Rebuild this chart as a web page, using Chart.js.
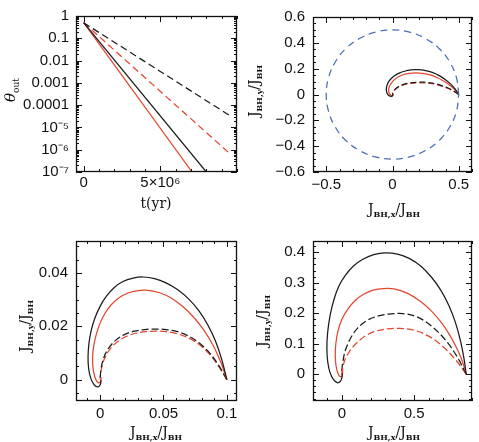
<!DOCTYPE html>
<html>
<head>
<meta charset="utf-8">
<script src="https://cdn.jsdelivr.net/npm/chart.js@4.4.1/dist/chart.umd.min.js"></script>
<style>
  html, body { margin: 0; padding: 0; background: #fff; }
  #wrap { position: relative; width: 479px; height: 442px; overflow: hidden; }
  canvas { position: absolute; left: 0; top: 0; }
</style>
</head>
<body>
<div id="wrap">
  <canvas id="p1" width="479" height="442"></canvas>
  <canvas id="p2" width="479" height="442"></canvas>
  <canvas id="p3" width="479" height="442"></canvas>
  <canvas id="p4" width="479" height="442"></canvas>
</div>
<script>
// ---- data ----
// panel 1 : theta_out(t), straight lines on the log axis
const p1BlackSolid  = [[0, 0.5], [8.0e6, 1e-7]];
const p1RedSolid    = [[0, 0.5], [7.07e6, 1e-7]];
const p1BlackDashed = [[0, 0.5], [9.5e6, 3.5e-5]];
const p1RedDashed   = [[0, 0.5], [9.45e6, 7.5e-7]];
const p1XTicks = [0, 5e6];
const p1XLabels = ['0', '5×10⁶'];
const p1YTicks = [1, 0.1, 0.01, 0.001, 0.0001, 1e-5, 1e-6, 1e-7];
const p1YLabels = ['1', '0.1', '0.01', '0.001', '0.0001', '10⁻⁵', '10⁻⁶', '10⁻⁷'];

// panel 2 : J_BH,y vs J_BH,x with the |J| = 0.5 circle
const p2BlackSolid = [[0.500, 0.000], [0.475, 0.040], [0.440, 0.080], [0.400, 0.115], [0.350, 0.148], [0.300, 0.171],
  [0.250, 0.185], [0.190, 0.192], [0.140, 0.190], [0.090, 0.180], [0.050, 0.165], [0.015, 0.145], [-0.015, 0.118],
  [-0.035, 0.088], [-0.045, 0.055], [-0.046, 0.028], [-0.038, 0.005], [-0.022, -0.012], [-0.006, -0.014],
  [0.003, -0.006], [0.004, 0.003]];
const p2RedSolid = [[0.500, 0.000], [0.470, 0.038], [0.430, 0.074], [0.385, 0.105], [0.335, 0.132], [0.285, 0.152],
  [0.230, 0.164], [0.175, 0.168], [0.125, 0.164], [0.080, 0.153], [0.045, 0.137], [0.015, 0.115], [-0.008, 0.088],
  [-0.024, 0.060], [-0.029, 0.035], [-0.026, 0.013], [-0.015, -0.004], [-0.004, -0.008], [0.003, -0.003], [0.004, 0.005]];
const p2BlackDashed = [[0.500, 0.000], [0.460, 0.028], [0.415, 0.052], [0.360, 0.073], [0.300, 0.088], [0.240, 0.095],
  [0.185, 0.095], [0.135, 0.090], [0.090, 0.080], [0.055, 0.066], [0.028, 0.048], [0.010, 0.028], [0.002, 0.012], [0.0, 0.0]];
const p2RedDashed = [[0.500, 0.000], [0.460, 0.026], [0.415, 0.049], [0.360, 0.069], [0.300, 0.084], [0.240, 0.090],
  [0.190, 0.091], [0.140, 0.087], [0.095, 0.078], [0.058, 0.065], [0.030, 0.048], [0.012, 0.029], [0.003, 0.012], [0.0, 0.0]];
const p2Circle = [[0.5, 0], [0.483, 0.129], [0.433, 0.25], [0.354, 0.354], [0.25, 0.433], [0.129, 0.483], [0, 0.5],
  [-0.129, 0.483], [-0.25, 0.433], [-0.354, 0.354], [-0.433, 0.25], [-0.483, 0.129], [-0.5, 0],
  [-0.483, -0.129], [-0.433, -0.25], [-0.354, -0.354], [-0.25, -0.433], [-0.129, -0.483], [0, -0.5],
  [0.129, -0.483], [0.25, -0.433], [0.354, -0.354], [0.433, -0.25], [0.483, -0.129], [0.5, 0]];
const p2XTicks = [-0.5, 0, 0.5];
const p2XLabels = ['−0.5', '0', '0.5'];
const p2YTicks = [-0.6, -0.4, -0.2, 0, 0.2, 0.4, 0.6];
const p2YLabels = ['−0.6', '−0.4', '−0.2', '0', '0.2', '0.4', '0.6'];

// panel 3
const p3BlackSolid = [[0.100, 0.000], [0.096, 0.0075], [0.091, 0.0145], [0.085, 0.0205], [0.078, 0.0258], [0.070, 0.0302],
  [0.061, 0.0338], [0.052, 0.0363], [0.043, 0.0379], [0.034, 0.0385], [0.026, 0.0381], [0.018, 0.0368], [0.011, 0.0345],
  [0.005, 0.0313], [0.000, 0.0275], [-0.004, 0.0232], [-0.007, 0.0185], [-0.0088, 0.0135], [-0.0095, 0.0085],
  [-0.0090, 0.0040], [-0.0072, 0.0003], [-0.0045, -0.0020], [-0.0018, -0.0027], [0.0002, -0.0018], [0.0008, -0.0002]];
const p3RedSolid = [[0.100, 0.000], [0.095, 0.0068], [0.089, 0.0130], [0.082, 0.0185], [0.074, 0.0233], [0.065, 0.0275],
  [0.056, 0.0306], [0.047, 0.0326], [0.038, 0.0335], [0.030, 0.0334], [0.022, 0.0325], [0.015, 0.0307], [0.009, 0.0282],
  [0.004, 0.0250], [0.000, 0.0212], [-0.003, 0.0170], [-0.0050, 0.0127], [-0.0059, 0.0085], [-0.0056, 0.0045],
  [-0.0043, 0.0013], [-0.0024, -0.0007], [-0.0006, -0.0012], [0.0005, -0.0004], [0.0008, 0.0010]];
const p3BlackDashed = [[0.100, 0.000], [0.094, 0.0050], [0.087, 0.0097], [0.079, 0.0135], [0.070, 0.0163], [0.061, 0.0180],
  [0.052, 0.0188], [0.043, 0.0190], [0.035, 0.0188], [0.027, 0.0182], [0.020, 0.0171], [0.014, 0.0154], [0.009, 0.0132],
  [0.005, 0.0105], [0.0022, 0.0072], [0.0006, 0.0036], [0.0, 0.000]];
const p3RedDashed = [[0.100, 0.000], [0.094, 0.0047], [0.087, 0.0092], [0.079, 0.0129], [0.070, 0.0156], [0.061, 0.0172],
  [0.052, 0.0180], [0.044, 0.0182], [0.036, 0.0180], [0.028, 0.0174], [0.021, 0.0163], [0.015, 0.0147], [0.010, 0.0127],
  [0.006, 0.0102], [0.0027, 0.0070], [0.0008, 0.0035], [0.0, 0.000]];
const p3XTicks = [0, 0.05, 0.1];
const p3XLabels = ['0', '0.05', '0.1'];
const p3YTicks = [0, 0.02, 0.04];
const p3YLabels = ['0', '0.02', '0.04'];

// panel 4
const p4BlackSolid = [[0.86, 0.000], [0.845, 0.050], [0.82, 0.110], [0.785, 0.170], [0.74, 0.225], [0.685, 0.275],
  [0.62, 0.318], [0.545, 0.355], [0.465, 0.380], [0.385, 0.394], [0.30, 0.398], [0.22, 0.392], [0.145, 0.377],
  [0.08, 0.355], [0.025, 0.325], [-0.02, 0.290], [-0.055, 0.245], [-0.083, 0.190], [-0.099, 0.135], [-0.104, 0.085],
  [-0.098, 0.040], [-0.082, 0.005], [-0.058, -0.018], [-0.032, -0.028], [-0.012, -0.024], [0.0, -0.012], [0.003, 0.002]];
const p4RedSolid = [[0.86, 0.000], [0.835, 0.040], [0.80, 0.080], [0.75, 0.125], [0.69, 0.168], [0.62, 0.207],
  [0.54, 0.240], [0.455, 0.265], [0.37, 0.279], [0.29, 0.281], [0.215, 0.276], [0.15, 0.262], [0.09, 0.241],
  [0.04, 0.213], [0.0, 0.180], [-0.027, 0.142], [-0.042, 0.100], [-0.046, 0.060], [-0.040, 0.026], [-0.027, 0.002],
  [-0.012, -0.008], [0.0, -0.006], [0.005, 0.005], [0.004, 0.020]];
const p4BlackDashed = [[0.86, 0.000], [0.80, 0.055], [0.72, 0.110], [0.62, 0.158], [0.52, 0.188], [0.42, 0.199],
  [0.34, 0.198], [0.26, 0.192], [0.18, 0.178], [0.11, 0.152], [0.06, 0.118], [0.025, 0.080], [0.008, 0.045],
  [0.0, 0.015], [0.0, 0.0]];
const p4RedDashed = [[0.86, 0.000], [0.79, 0.045], [0.70, 0.090], [0.60, 0.125], [0.50, 0.144], [0.40, 0.150],
  [0.32, 0.149], [0.24, 0.142], [0.17, 0.128], [0.11, 0.106], [0.06, 0.080], [0.025, 0.052], [0.008, 0.027],
  [0.0, 0.008], [0.0, 0.0]];
const p4XTicks = [0, 0.5];
const p4XLabels = ['0', '0.5'];
const p4YTicks = [0, 0.1, 0.2, 0.3, 0.4];
const p4YLabels = ['0', '0.1', '0.2', '0.3', '0.4'];

// ---- drawing ----
const W = 479, H = 442;
const BLACK = '#1b1b1b', RED = '#e4452e', BLUE = '#4a6db5';
const SERIF = 'DejaVu Serif';

function buildTickList(ax) {
    const out = [];
    if (ax.log) {
        const d0 = Math.round(Math.log10(ax.min)), d1 = Math.round(Math.log10(ax.max));
        for (let d = d0; d <= d1; d++) {
            for (let k = 1; k <= 9; k++) {
                const v = k * Math.pow(10, d);
                if (v > ax.max * 1.0001) break;
                out.push({ value: v, isMajor: k === 1 });
            }
        }
    } else {
        const k0 = Math.ceil(ax.min / ax.minor - 1e-6);
        const k1 = Math.floor(ax.max / ax.minor + 1e-6);
        for (let k = k0; k <= k1; k++) {
            const v = parseFloat((k * ax.minor).toPrecision(10));
            out.push({ value: v, isMajor: ax.majors.some(m => Math.abs(m - v) < ax.minor / 100) });
        }
    }
    return out;
}

function tickLabel(ax) {
    return function (v) {
        const i = ax.majors.findIndex(m => ax.log
            ? Math.abs(Math.log10(m) - Math.log10(v)) < 1e-6
            : Math.abs(m - v) < ax.minor / 100);
        return i >= 0 ? ax.labels[i] : '';
    };
}

function scaleOpts(ax, pos, box) {
    ax.tickList = buildTickList(ax);
    return {
        type: ax.log ? 'logarithmic' : 'linear',
        position: pos,
        min: ax.min,
        max: ax.max,
        grid: { display: false, drawTicks: false },
        border: { display: false },
        afterBuildTicks: s => { s.ticks = ax.tickList.map(t => ({ value: t.value })); },
        afterFit: pos === 'left' ? s => { s.width = box.l; } : s => { s.height = H - box.b; },
        ticks: {
            autoSkip: false, maxRotation: 0, minRotation: 0,
            padding: ax.pad, color: '#111',
            font: { family: 'Liberation Sans', size: 15 },
            callback: tickLabel(ax)
        }
    };
}

// text with subscripts, centred on (cx, cy), optionally rotated
function drawLabel(ctx, parts, cx, cy, rot) {
    ctx.save();
    ctx.translate(cx, cy);
    if (rot) ctx.rotate(-Math.PI / 2);
    ctx.fillStyle = '#111';
    ctx.textBaseline = 'alphabetic';
    ctx.textAlign = 'left';
    let w = 0;
    const widths = parts.map(p => { ctx.font = p[1]; const m = ctx.measureText(p[0]).width; w += m; return m; });
    let xx = -w / 2;
    parts.forEach((p, i) => { ctx.font = p[1]; ctx.fillText(p[0], xx, 5 + (p[2] || 0)); xx += widths[i]; });
    ctx.restore();
}

function framePlugin(xAx, yAx, titles) {
    return {
        id: 'frame',
        afterDraw(chart) {
            const ctx = chart.ctx, a = chart.chartArea;
            const x = chart.scales.x, y = chart.scales.y;
            ctx.save();
            ctx.setLineDash([]);
            ctx.globalAlpha = 1;
            ctx.strokeStyle = '#111';
            ctx.lineWidth = 1;
            ctx.beginPath();
            xAx.tickList.forEach(t => {
                const px = Math.round(x.getPixelForValue(t.value)) + 0.5;
                const len = t.isMajor ? 6 : 3;
                ctx.moveTo(px, a.bottom); ctx.lineTo(px, a.bottom - len);
                ctx.moveTo(px, a.top); ctx.lineTo(px, a.top + len);
            });
            yAx.tickList.forEach(t => {
                const py = Math.round(y.getPixelForValue(t.value)) + 0.5;
                const len = t.isMajor ? 6 : 3;
                ctx.moveTo(a.left, py); ctx.lineTo(a.left + len, py);
                ctx.moveTo(a.right, py); ctx.lineTo(a.right - len, py);
            });
            ctx.stroke();
            ctx.lineWidth = 1.3;
            ctx.strokeRect(a.left + 0.5, a.top + 0.5, a.right - a.left - 1, a.bottom - a.top - 1);
            ctx.restore();
            titles.forEach(t => drawLabel(ctx, t.parts, t.cx, t.cy, t.rot));
        }
    };
}

function line(data, color, dash, tension) {
    return {
        data: data,
        showLine: true,
        borderColor: color,
        borderWidth: 1.25,
        borderDash: dash || [],
        pointRadius: 0,
        tension: tension === undefined ? 0.35 : tension,
        fill: false
    };
}

function makePanel(id, box, xAx, yAx, datasets, titles) {
    new Chart(document.getElementById(id), {
        type: 'scatter',
        data: { datasets: datasets },
        options: {
            responsive: false,
            animation: false,
            events: [],
            layout: { padding: { left: 0, top: box.t, right: W - box.r, bottom: 0 } },
            plugins: { legend: { display: false }, tooltip: { enabled: false } },
            scales: { x: scaleOpts(xAx, 'bottom', box), y: scaleOpts(yAx, 'left', box) }
        },
        plugins: [framePlugin(xAx, yAx, titles)]
    });
}

const big = '14px ' + SERIF, sub = 'bold 8px ' + SERIF;
const jx = [['J', big], ['BH,x', sub, 3], ['/J', big], ['BH', sub, 3]];
const jy = [['J', big], ['BH,y', sub, 3], ['/J', big], ['BH', sub, 3]];

makePanel('p1', { l: 76, t: 10, r: 237, b: 172 },
    { min: -0.5e6, max: 1e7, minor: 1e6, majors: p1XTicks, labels: p1XLabels, pad: 2 },
    { log: true, min: 1e-7, max: 1, majors: p1YTicks, labels: p1YLabels, pad: 7 },
    [line(p1BlackSolid, BLACK, null, 0), line(p1RedSolid, RED, null, 0),
     line(p1BlackDashed, BLACK, [7, 4], 0), line(p1RedDashed, RED, [7, 4], 0)],
    [{ parts: [['t(yr)', big]], cx: 156, cy: 203 },
     { parts: [['θ', 'italic 15px ' + SERIF], ['out', '9px ' + SERIF, 4]], cx: 10, cy: 90, rot: true }]);

makePanel('p2', { l: 313, t: 10, r: 472, b: 172 },
    { min: -0.6, max: 0.6, minor: 0.1, majors: p2XTicks, labels: p2XLabels, pad: 4 },
    { min: -0.6, max: 0.6, minor: 0.05, majors: p2YTicks, labels: p2YLabels, pad: 8 },
    [line(p2Circle, BLUE, [7, 5], 0.4), line(p2BlackSolid, BLACK), line(p2RedSolid, RED),
     line(p2BlackDashed, BLACK, [6, 3]), line(p2RedDashed, RED, [6, 3])],
    [{ parts: jx, cx: 394, cy: 209 }, { parts: jy, cx: 254, cy: 91, rot: true }]);

makePanel('p3', { l: 76, t: 241, r: 237, b: 401 },
    { min: -0.019, max: 0.108, minor: 0.01, majors: p3XTicks, labels: p3XLabels, pad: 4 },
    { min: -0.008, max: 0.052, minor: 0.005, majors: p3YTicks, labels: p3YLabels, pad: 8 },
    [line(p3BlackSolid, BLACK), line(p3RedSolid, RED),
     line(p3BlackDashed, BLACK, [7, 3]), line(p3RedDashed, RED, [7, 3])],
    [{ parts: jx, cx: 156, cy: 432 }, { parts: jy, cx: 25, cy: 326, rot: true }]);

makePanel('p4', { l: 313, t: 241, r: 472, b: 401 },
    { min: -0.2, max: 0.9, minor: 0.1, majors: p4XTicks, labels: p4XLabels, pad: 4 },
    { min: -0.088, max: 0.437, minor: 0.02, majors: p4YTicks, labels: p4YLabels, pad: 8 },
    [line(p4BlackSolid, BLACK), line(p4RedSolid, RED),
     line(p4BlackDashed, BLACK, [7, 3]), line(p4RedDashed, RED, [7, 3])],
    [{ parts: jx, cx: 394, cy: 432 }, { parts: jy, cx: 262, cy: 321, rot: true }]);
</script>
</body>
</html>
